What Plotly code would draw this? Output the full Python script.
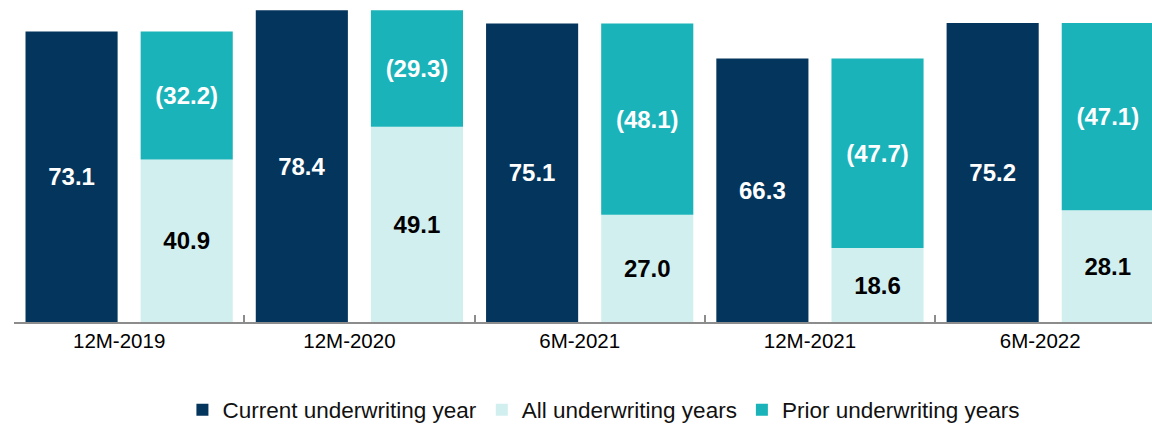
import plotly.graph_objects as go

categories = ["12M-2019", "12M-2020", "6M-2021", "12M-2021", "6M-2022"]
current_uy = [73.1, 78.4, 75.1, 66.3, 75.2]
all_uy = [40.9, 49.1, 27.0, 18.6, 28.1]
prior_uy = [-32.2, -29.3, -48.1, -47.7, -47.1]

NAVY = "#04355C"
TEAL = "#1AB3B9"
LIGHT = "#D2EFF0"

def fmt(v):
    return f"({abs(v):.1f})" if v < 0 else f"{v:.1f}"

label_font_white = dict(family="Liberation Sans, Arial", size=24, color="white")
label_font_black = dict(family="Liberation Sans, Arial", size=24, color="black")

fig = go.Figure()
fig.add_trace(go.Bar(
    x=categories, y=current_uy, name="Current underwriting year",
    marker=dict(color=NAVY, line=dict(width=0)),
    offset=-0.45, width=0.4,
    text=[fmt(v) for v in current_uy], textposition="inside",
    insidetextanchor="middle", textfont=label_font_white,
    texttemplate="<b>%{text}</b>", hoverinfo="skip", cliponaxis=False,
))
fig.add_trace(go.Bar(
    x=categories, y=all_uy, name="All underwriting years",
    marker=dict(color=LIGHT, line=dict(width=0)),
    offset=0.05, width=0.4,
    text=[fmt(v) for v in all_uy], textposition="inside",
    insidetextanchor="middle", textfont=label_font_black,
    texttemplate="<b>%{text}</b>", hoverinfo="skip", cliponaxis=False,
))
fig.add_trace(go.Bar(
    x=categories, y=[abs(v) for v in prior_uy], base=all_uy,
    name="Prior underwriting years",
    marker=dict(color=TEAL, line=dict(width=0)),
    offset=0.05, width=0.4,
    text=[fmt(v) for v in prior_uy], textposition="inside",
    insidetextanchor="middle", textfont=label_font_white,
    texttemplate="<b>%{text}</b>", hoverinfo="skip", cliponaxis=False,
))

fig.update_layout(
    width=1152, height=425,
    margin=dict(l=14, r=0, t=4, b=103, autoexpand=False),
    barmode="overlay",
    plot_bgcolor="white", paper_bgcolor="white",
    font=dict(family="Liberation Sans, Arial", color="black"),
    uniformtext=dict(minsize=8, mode="show"),
    showlegend=True,
    legend=dict(
        orientation="h", x=0.148, xanchor="left", y=-0.277, yanchor="middle",
        font=dict(size=22.5, color="#111111"), itemwidth=30,
        traceorder="normal",
    ),
    xaxis=dict(
        type="category", range=[-0.5, 4.442], automargin=False,
        showline=True, linecolor="#8C8C8C", linewidth=1.5,
        ticks="inside", ticklen=7, tickcolor="#8C8C8C", tickwidth=1.5,
        tickson="boundaries", showgrid=False, ticklabelshift=-10,
        tickfont=dict(size=20.5, color="black"),
    ),
    yaxis=dict(range=[0, 80], visible=False, showgrid=False, zeroline=False,
               automargin=False),
)

fig.write_html(
    "out.html",
    config={"displayModeBar": False},
    post_script="document.body.style.margin='0';document.body.style.overflow='hidden';",
)
